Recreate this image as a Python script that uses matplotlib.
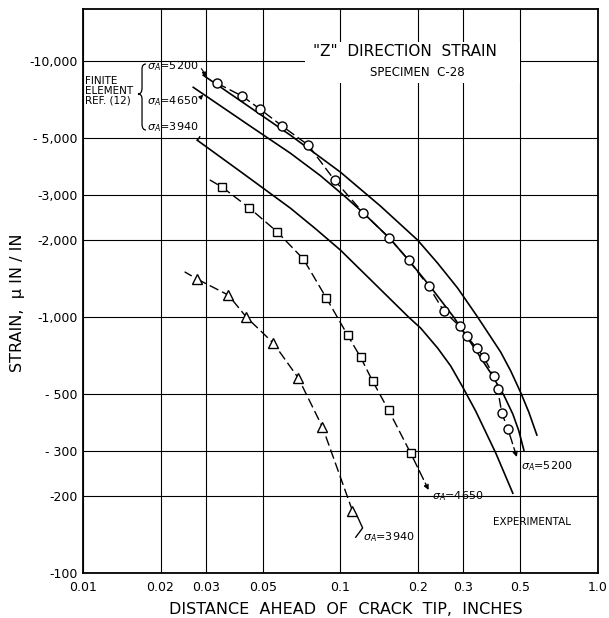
import matplotlib
matplotlib.use('Agg')
import matplotlib.pyplot as plt
from matplotlib.patches import Rectangle, PathPatch
from matplotlib.path import Path
from matplotlib.ticker import NullLocator

# strain magnitudes (compressive, micro in/in) vs distance ahead of crack tip (in)

# experimental, sigma_A = 5200 (circles)
exp_5200_x = [0.0332, 0.0416, 0.0488, 0.0595, 0.0750, 0.0948, 0.1228, 0.155, 0.184, 0.220,
              0.252, 0.290, 0.309, 0.338, 0.360, 0.394, 0.408, 0.423, 0.447]
exp_5200_y = [8200, 7300, 6490, 5570, 4700, 3430, 2550, 2035, 1670, 1320,
              1055, 922, 843, 757, 698, 588, 523, 422, 365]

# experimental, sigma_A = 4650 (squares)
exp_4650_x = [0.0347, 0.0443, 0.0569, 0.0718, 0.0882, 0.1065, 0.1196, 0.1333, 0.1537, 0.1873]
exp_4650_y = [3220, 2670, 2150, 1685, 1186, 851, 698, 562, 433, 294]

# experimental, sigma_A = 3940 (triangles)
exp_3940_x = [0.0278, 0.0367, 0.0431, 0.0549, 0.0686, 0.0851, 0.1113]
exp_3940_y = [1407, 1219, 1000, 791, 578, 372, 175]

# finite element, ref. (12)
fe_5200_x = [0.0293, 0.04466, 0.0639, 0.100, 0.1431, 0.1993, 0.2384, 0.2852, 0.341, 0.419,
             0.4587, 0.502, 0.5389, 0.579]
fe_5200_y = [8820, 6590, 5140, 3685, 2714, 2000, 1625, 1298, 1000, 730,
             615, 505, 425, 346]

fe_4650_x = [0.0268, 0.04466, 0.0639, 0.0836, 0.1046, 0.1229, 0.1551, 0.1839, 0.2240, 0.2753,
             0.3352, 0.3835, 0.4307, 0.467, 0.4928, 0.5155]
fe_4650_y = [7910, 5574, 4371, 3570, 2948, 2549, 2035, 1670, 1310, 1000,
             743, 604, 496, 418, 359, 302]

fe_3940_x = [0.02778, 0.04195, 0.0639, 0.0799, 0.100, 0.1356, 0.1839, 0.2048, 0.2384, 0.268,
             0.2983, 0.3352, 0.4011, 0.467]
fe_3940_y = [4913, 3636, 2666, 2217, 1827, 1352, 1000, 906, 757, 644,
             533, 429, 294, 205]

x_ticks = [0.01, 0.02, 0.03, 0.05, 0.1, 0.2, 0.3, 0.5, 1.0]
x_tick_labels = ['0.01', '0.02', '0.03', '0.05', '0.1', '0.2', '0.3', '0.5', '1.0']
y_ticks = [100, 200, 300, 500, 1000, 2000, 3000, 5000, 10000]
y_tick_labels = ['-100', '-200', '- 300', '- 500', '-1,000', '-2,000', '-3,000', '- 5,000', '-10,000']


def main():
    fig = plt.figure(figsize=(6.09, 6.18), dpi=100)
    ax = fig.add_axes([0.1363, 0.0728, 0.8456, 0.9126])
    ax.set_xscale('log')
    ax.set_yscale('log')
    ax.set_xlim(0.01, 1.0)
    ax.set_ylim(100, 16000)

    ax.set_xticks(x_ticks)
    ax.set_xticklabels(x_tick_labels)
    ax.set_yticks(y_ticks)
    ax.set_yticklabels(y_tick_labels)
    ax.xaxis.set_minor_locator(NullLocator())
    ax.yaxis.set_minor_locator(NullLocator())
    ax.tick_params(length=0, labelsize=9)
    ax.tick_params(axis='x', pad=6)
    ax.tick_params(axis='y', pad=4)
    ax.grid(True, color='black', lw=0.8)
    ax.set_axisbelow(True)
    for s in ax.spines.values():
        s.set_linewidth(1.3)

    # white area behind title
    ax.add_patch(Rectangle((0.431, 0.869), 0.418, 0.072, transform=ax.transAxes,
                           facecolor='white', edgecolor='none', zorder=1))

    # finite element curves
    for fx, fy in [(fe_5200_x, fe_5200_y), (fe_4650_x, fe_4650_y), (fe_3940_x, fe_3940_y)]:
        ax.plot(fx, fy, color='black', lw=1.2, zorder=3)

    # experimental curves
    dash = (0, (7, 3))
    ax.plot(exp_5200_x, exp_5200_y, color='black', lw=1.0, ls=dash, marker='o', ms=6.5,
            mfc='white', mec='black', mew=1.0, zorder=4)
    ax.plot(exp_4650_x, exp_4650_y, color='black', lw=1.0, ls=dash, marker='s', ms=5.5,
            mfc='white', mec='black', mew=1.0, zorder=4)
    ax.plot(exp_3940_x, exp_3940_y, color='black', lw=1.0, ls=dash, marker='^', ms=7.5,
            mfc='white', mec='black', mew=1.0, zorder=4)

    # lead-in dashes before first markers
    ax.annotate('', xy=(exp_4650_x[0], exp_4650_y[0]), xytext=(0.0312, 3430),
                arrowprops=dict(arrowstyle='-', ls=dash, lw=1.0, shrinkA=0, shrinkB=4))
    ax.annotate('', xy=(exp_3940_x[0], exp_3940_y[0]), xytext=(0.0249, 1500),
                arrowprops=dict(arrowstyle='-', ls=dash, lw=1.0, shrinkA=0, shrinkB=5))

    # title
    ax.text(0.625, 0.924, '"Z"  DIRECTION  STRAIN', transform=ax.transAxes,
            ha='center', va='center', fontsize=11, zorder=5)
    ax.text(0.650, 0.888, 'SPECIMEN  C-28', transform=ax.transAxes,
            ha='center', va='center', fontsize=8.5, zorder=5)

    # finite element labels (upper left)
    ax.text(0.004, 0.855, 'FINITE\nELEMENT\nREF. (12)', transform=ax.transAxes,
            ha='left', va='center', fontsize=7.5, linespacing=0.95)
    verts = [(0.1223, 0.9025), (0.1146, 0.9025), (0.1146, 0.8936), (0.1146, 0.8599),
             (0.1146, 0.8493), (0.1068, 0.8493), (0.1146, 0.8493), (0.1146, 0.8404),
             (0.1146, 0.7961), (0.1146, 0.7855), (0.1223, 0.7855)]
    codes = [Path.MOVETO, Path.CURVE3, Path.CURVE3, Path.LINETO, Path.CURVE3, Path.CURVE3,
             Path.CURVE3, Path.CURVE3, Path.LINETO, Path.CURVE3, Path.CURVE3]
    ax.add_patch(PathPatch(Path(verts, codes), transform=ax.transAxes, facecolor='none',
                           edgecolor='black', lw=0.9, clip_on=False))

    ax.annotate(r'$\sigma_A$=5200', xy=(0.0298, 8660), xytext=(0.1243, 0.899),
                textcoords='axes fraction', ha='left', va='center', fontsize=8,
                arrowprops=dict(arrowstyle='-|>', lw=0.8, color='black', shrinkA=0, shrinkB=0,
                                relpos=(1, 0.5), connectionstyle='arc3,rad=-0.2',
                                mutation_scale=7))
    ax.annotate(r'$\sigma_A$=4650', xy=(0.0293, 7400), xytext=(0.1243, 0.837),
                textcoords='axes fraction', ha='left', va='center', fontsize=8,
                arrowprops=dict(arrowstyle='-|>', lw=0.8, color='black', shrinkA=0, shrinkB=0,
                                relpos=(1, 0.6), mutation_scale=6))
    ax.annotate(r'$\sigma_A$=3940', xy=(fe_3940_x[0], fe_3940_y[0]), xytext=(0.1243, 0.791),
                textcoords='axes fraction', ha='left', va='center', fontsize=8,
                arrowprops=dict(arrowstyle='-', lw=1.0, color='black', shrinkA=0, shrinkB=0,
                                relpos=(1, 0.5), connectionstyle='arc3,rad=-0.4'))

    # experimental labels (lower right)
    ax.annotate('', xy=(0.484, 284), xytext=(exp_5200_x[-1], exp_5200_y[-1]),
                arrowprops=dict(arrowstyle='-|>', lw=1.0, ls=dash, color='black',
                                shrinkA=4, shrinkB=0, mutation_scale=7))
    ax.text(0.8505, 0.190, r'$\sigma_A$=5200', transform=ax.transAxes,
            ha='left', va='center', fontsize=8)
    ax.annotate('', xy=(0.220, 211), xytext=(exp_4650_x[-1], exp_4650_y[-1]),
                arrowprops=dict(arrowstyle='-|>', lw=1.0, ls=dash, color='black',
                                shrinkA=4, shrinkB=0, mutation_scale=7))
    ax.text(0.6777, 0.137, r'$\sigma_A$=4650', transform=ax.transAxes,
            ha='left', va='center', fontsize=8)
    ax.plot([0.1164, 0.1219, 0.1146], [166, 150, 138], color='black', lw=1.0)
    ax.text(0.5437, 0.064, r'$\sigma_A$=3940', transform=ax.transAxes,
            ha='left', va='center', fontsize=8)
    ax.text(0.8718, 0.090, 'EXPERIMENTAL', transform=ax.transAxes,
            ha='center', va='center', fontsize=7.5)

    ax.set_xlabel('DISTANCE  AHEAD  OF  CRACK  TIP,  INCHES', fontsize=11.5)
    ax.xaxis.set_label_coords(0.511, -0.052)
    ax.set_ylabel('STRAIN,  \u03bc IN / IN', fontsize=11.5)
    ax.yaxis.set_label_coords(-0.113, 0.479)

    fig.savefig('out.png', dpi=100)


if __name__ == '__main__':
    main()
